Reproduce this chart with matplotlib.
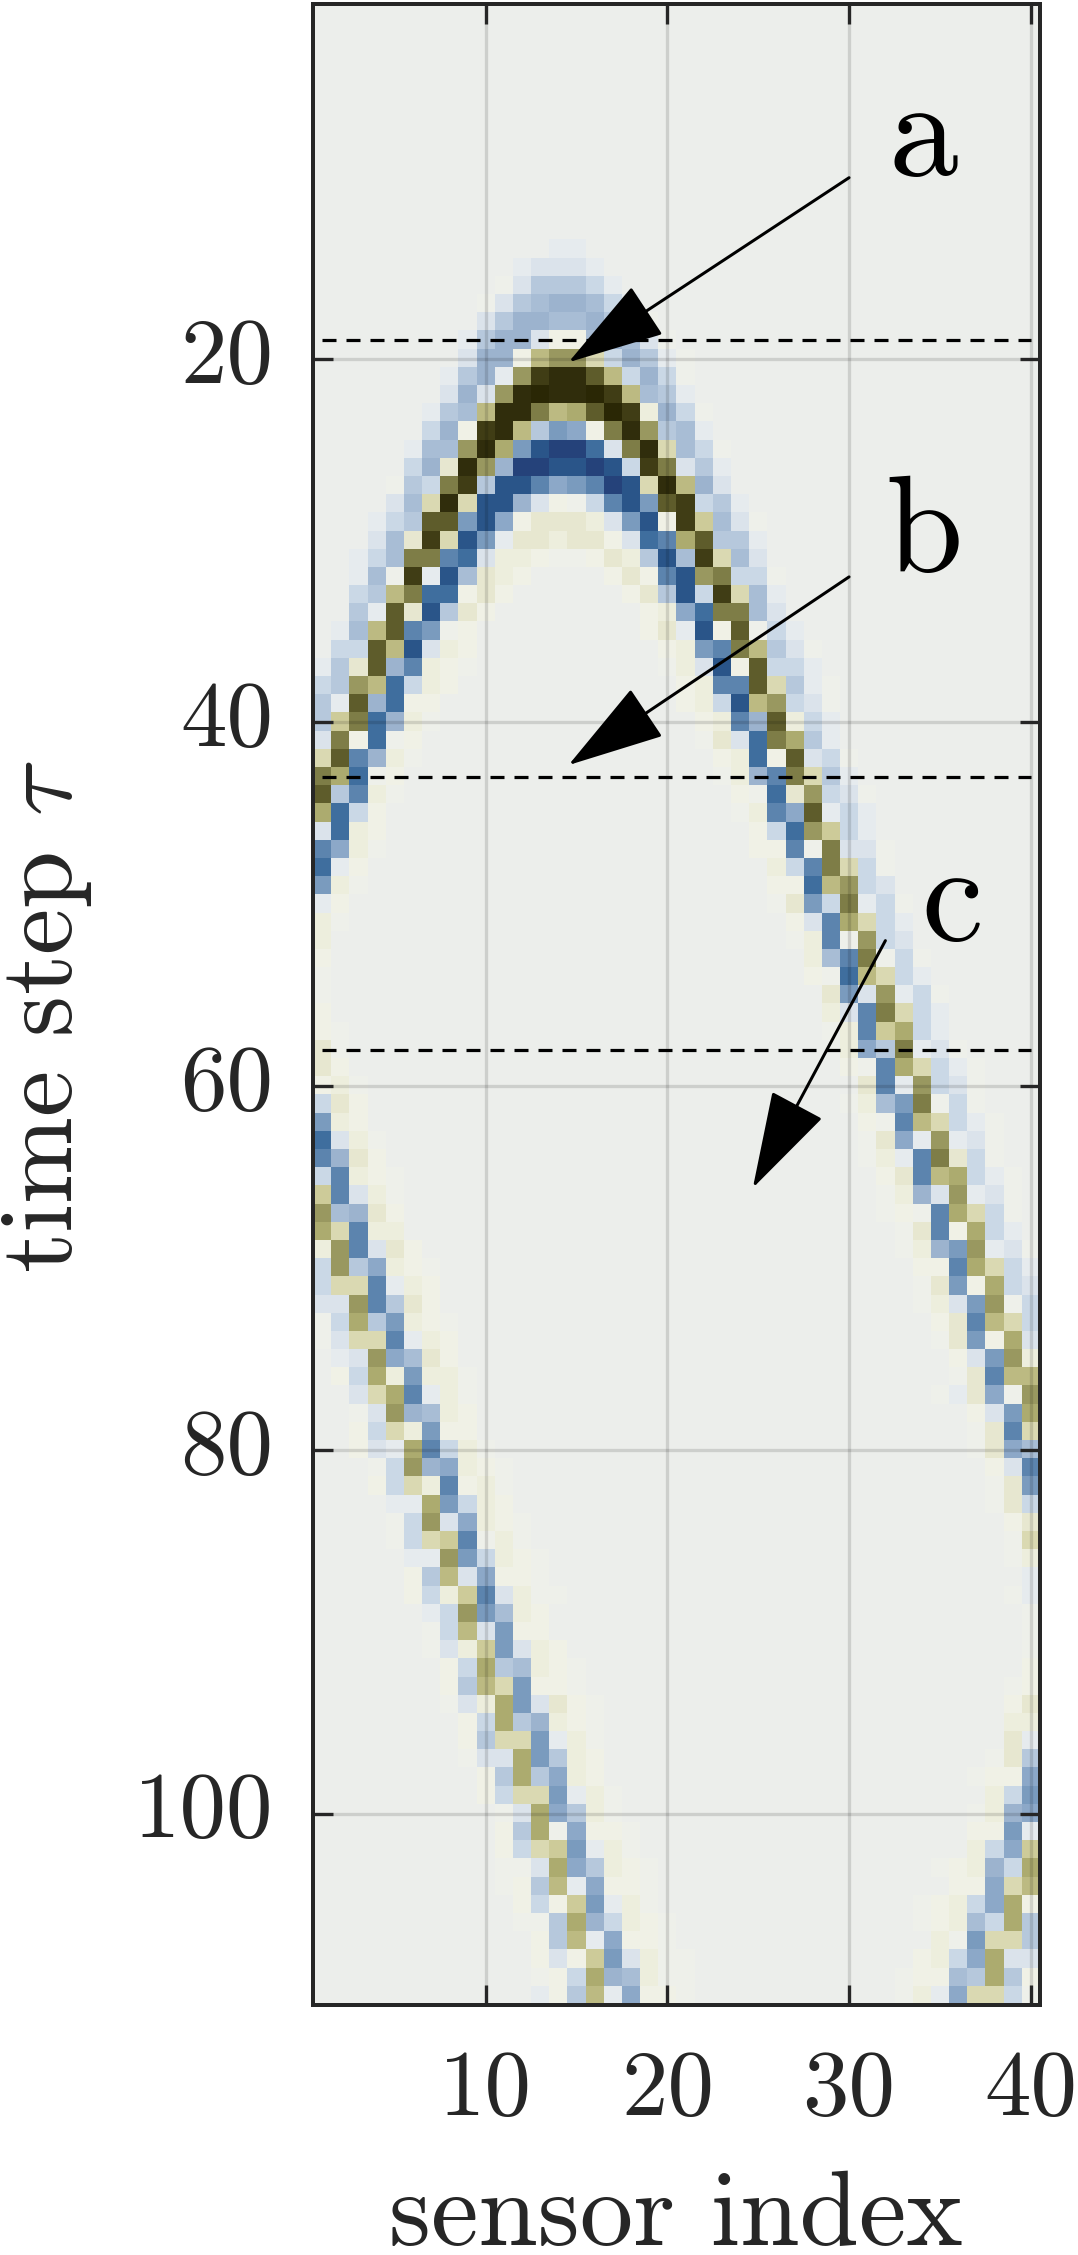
"""Sensor-index vs time-step field with three marked time slices."""

import numpy as np
import matplotlib
matplotlib.use('Agg')
import matplotlib.pyplot as plt
from matplotlib.colors import ListedColormap
from matplotlib.transforms import ScaledTranslation

plt.rcParams['font.family'] = 'cmr10'
plt.rcParams['mathtext.fontset'] = 'cm'
plt.rcParams['axes.unicode_minus'] = False

# === Data ===
N_ROWS, N_COLS = 110, 40

# one character per colour level, from olive through background to blue
LEVELS = 'jihgfendmcbwa,.0123p4q56789'
LEVEL_COLORS = ['#2A2705', '#302D0C', '#403D15', '#5E5C2B', '#7E7D47', '#999860',
                '#ACAB6F', '#BCBA82', '#CDCB99', '#DAD9B2', '#E7E7D0', '#EDEEDD',
                '#F0F1E6', '#EEF0EA', '#ECEEEB', '#E6EBEE', '#DBE3EB', '#CAD8E6',
                '#B6C8DC', '#A8BDD5', '#9CB3CE', '#8CA8C8', '#7A9BBE', '#5C84AE',
                '#3F6E9E', '#2A5589', '#25427A']

# (time step, first sensor, levels)
BANDS = [
    (14, 14, '00'), (15, 12, '01110'), (16, 11, ',133320'), (17, 10, ',13p44p20'),
    (18, 10, '1344pp431,'), (19, 9, '03441aap4p1,'), (20, 9, '144adeec2430,'),
    (21, 8, '0340ehiigd242,'), (22, 8, '141eijiijhdp30'), (23, 7, '03pdiifdngjhw42,'),
    (24, 7, '24ahid35qafie3p0'), (25, 6, '0ppein589971ficp2,'), (26, 6, '24bie49988982hf130'),
    (27, 5, ',32fh3886q5698cid41'), (28, 5, '1pcic8841a,2685gh230'),
    (29, 4, '023gg58qabbbw158ahmp1,'), (30, 4, '1pbhc850bbwbba176ng330'),
    (31, 3, '02pff671wwa,,abw38phcp1'), (32, 3, '0p,h08pbwa....aba68ef22,'),
    (33, 3, '23df77aba......ab382hcp0'), (34, 3, '30gb83ba........awq7ffp1'),
    (35, 2, '0pdg65,a.........ab08ag,20'), (36, 2, '22gd81wa..........aw56fd31,'),
    (37, 1, '03bg46wa,'), (37, 20, ',w18ag220'), (38, 1, '23ed72wa'), (38, 21, 'aw66gc30,'),
    (39, 1, '30g47aa'), (39, 21, 'aw28de21,'), (40, 1, '3mf74w,'), (40, 22, 'aw64gw20'),
    (41, 1, '1fa7,a'), (41, 22, ',b17fn30'), (42, 1, 'cg64w,'), (42, 23, 'aw7ag12,'),
    (43, 1, 'fn7,a'), (43, 23, ',w46fc30'), (44, 1, 'g36w,'), (44, 24, 'a,7be21,'),
    (45, 1, 'n72a'), (45, 24, ',w6qg020'), (46, 1, '17wa'), (46, 25, 'a27em20'),
    (47, 1, '6qw,'), (47, 25, 'aa6,f11,'), (48, 1, '70a'), (48, 26, 'w26fc2,'),
    (49, 1, '5w,'), (49, 26, 'aa7de21'), (50, 1, '0a'), (50, 26, ',b52f02,'),
    (51, 1, 'w,'), (51, 27, 'a16nc20'), (52, 1, 'w'), (52, 27, ',w6,e21'),
    (53, 1, 'a'), (53, 28, 'wp6f,2,'), (54, 1, ','), (54, 28, 'a,7dc20'),
    (55, 1, ','), (55, 29, 'b51e02,'), (56, 1, 'a'), (56, 29, 'w16fc20'),
    (57, 1, 'a,'), (57, 29, ',w6mn20'), (58, 1, 'b,'), (58, 30, 'wq3f01,'),
    (59, 1, 'ba'), (59, 30, 'a,6nc20,'), (60, 1, 'aw,'), (60, 31, 'b60e21,'),
    (61, 1, '2ba'), (61, 30, ',wp5f,2,'), (62, 1, '5wa'), (62, 31, 'a,6dc20,'),
    (63, 1, '71w,'), (63, 31, ',bq0e01,'), (64, 1, '64ba'), (64, 31, ',w06fb2,'),
    (65, 1, '26wa,'), (65, 32, 'ab6dn20,'), (66, 1, 'm61w,'), (66, 32, ',w41e01,'),
    (67, 1, 'ep4ba'), (67, 32, ',a,6nc2,'), (68, 1, 'nc6ww'), (68, 33, ',b6an20'),
    (69, 1, 'we61ba'), (69, 33, ',w45e01,'), (70, 1, '2e3qwa,'), (70, 34, 'aa6nc20'),
    (71, 1, '2cc60wa'), (71, 34, ',b5an21'), (72, 1, '11e63ba'), (72, 34, ',w15e,2'),
    (73, 1, ',2n35wa,'), (73, 35, 'ab6dc2'), (74, 1, ',1cc60wa'), (74, 35, ',b5an1'),
    (75, 2, '01eqpba'), (75, 36, 'a15ew'), (76, 2, 'a2nw5ww,'), (76, 36, ',b6dd'),
    (77, 3, '1cn60w,'), (77, 35, ',0bq,e'), (78, 3, ',1e4pwa'), (78, 37, 'a15n'),
    (79, 3, 'a2cw5aa'), (79, 37, ',b6c'), (80, 3, 'a10n62w,'), (80, 37, ',bqp'),
    (81, 4, ',2e4qwa,'), (81, 38, 'a16'), (82, 4, 'a2cw6aw,'), (82, 38, ',b5'),
    (83, 5, '00n52wa'), (83, 38, ',b2'), (84, 5, ',2e1qwa,'), (84, 39, 'ab'),
    (85, 5, ',2cm6,w,'), (85, 39, ',c'), (86, 6, '00e52wa,'), (86, 39, ',w'),
    (87, 6, 'a3d1qaa,'), (87, 40, '0'), (88, 6, 'a2wm61w,,'), (88, 39, ',0'),
    (89, 7, '02e5pwa'), (89, 40, ','), (90, 7, ',2d15aa'), (90, 40, ','),
    (91, 7, ',1wm51wa'), (91, 40, ','), (92, 8, 'a2n3pwa,'), (92, 40, 'a'),
    (93, 8, 'a3dc5aa,'), (93, 39, ',a'), (94, 8, ',1wn51ba,'), (94, 39, 'ab'),
    (95, 9, 'a2n34wa,'), (95, 39, 'ww'), (96, 9, 'a3cc50w,'), (96, 39, 'b0'),
    (97, 9, ',11n53wa'), (97, 38, ',b3'), (98, 10, 'a3n3qwa'), (98, 37, ',aaq'),
    (99, 10, 'a2cc50w,'), (99, 38, 'w25'), (100, 11, ',1nq3w,'), (100, 37, ',w4q'),
    (101, 11, 'a3n,qaa,'), (101, 37, 'aa50'), (102, 11, 'a2cm50w,'), (102, 37, 'w2qm'),
    (103, 11, ',,1nq3wa,'), (103, 35, ',aw42n'), (104, 11, ',a3d0qaa,'), (104, 36, 'aaqcd'),
    (105, 12, 'a2am50w,'), (105, 34, ',aw2qna'), (106, 12, ',,3n42wa,'), (106, 34, ',awp2n3'),
    (107, 13, 'a3d0qaa,'), (107, 35, 'w,5cc3'), (108, 13, 'a1am51w,,'), (108, 34, 'aw2qn11'),
    (109, 13, ',a2n4pw,,'), (109, 33, ',aap3n3a'), (110, 13, '0a3d0qaa,'), (110, 33, ',w0qcc2,'),
]

X_TICKS = [10, 20, 30, 40]
Y_TICKS = [20, 40, 60, 80, 100]
SLICE_STEPS = [19, 43, 58]
# letter, letter position, arrow tail, arrow tip
MARKERS = [('a', (34.1, 8.0), (30.0, 10.05), (14.55, 20.2)),
           ('b', (34.1, 29.8), (30.0, 32.0), (14.55, 42.35)),
           ('c', (35.7, 50.1), (32.0, 52.0), (24.7, 65.6))]

# === Parameters ===
W, H = 1078, 2255
DPI = 100
INK = '#262626'
PX = 72 / DPI

grid = np.full((N_ROWS, N_COLS), LEVELS.index('.'))
for row, col, levels in BANDS:
    for offset, ch in enumerate(levels):
        grid[row - 1, col - 1 + offset] = LEVELS.index(ch)

fig = plt.figure(figsize=(W / DPI, H / DPI), dpi=DPI)
ax = fig.add_axes([313.3 / W, 1 - 2004.5 / H, (1039.8 - 313.3) / W, (2004.5 - 4) / H])

ax.imshow(grid, cmap=ListedColormap(LEVEL_COLORS), vmin=-0.5, vmax=len(LEVELS) - 0.5,
          extent=(0.5, 40.5, 110.5, 0.5), aspect='auto', interpolation='nearest')

ax.set_xticks(X_TICKS)
ax.set_yticks(Y_TICKS)
ax.tick_params(direction='in', top=True, right=True, length=20 * PX, width=3.3 * PX,
               color=INK, labelcolor=INK, labelsize=67)
ax.tick_params(axis='x', pad=33)
ax.tick_params(axis='y', pad=29)
# digits sit low in their box, lift them back onto the tick
lift = ScaledTranslation(0, 8.5 / DPI, fig.dpi_scale_trans)
for label in ax.get_yticklabels():
    label.set_transform(label.get_transform() + lift)
ax.grid(True, color='black', alpha=0.13, linewidth=3.3 * PX)
ax.set_axisbelow(False)
for spine in ax.spines.values():
    spine.set_linewidth(4 * PX)
    spine.set_color(INK)

for step in SLICE_STEPS:
    ax.plot([1, 40], [step, step], color='black', linewidth=3.2 * PX,
            linestyle=(0, (14 / 3.2, 10 / 3.2)), zorder=4)

for letter, text_xy, tail, tip in MARKERS:
    ax.annotate('', xy=tip, xytext=tail, zorder=5,
                arrowprops=dict(arrowstyle='-|>,head_length=%.1f,head_width=%.1f' % (87 * PX, 26 * PX),
                                mutation_scale=1, linewidth=3 * PX, color='black',
                                shrinkA=0, shrinkB=0))
    ax.text(text_xy[0], text_xy[1], letter, fontsize=100, color='black',
            ha='center', va='center', zorder=6)

fig.text(676 / W, 1 - 2218 / H, 'sensor index', fontsize=77, color=INK,
         ha='center', va='center')
fig.text(47 / W, 1 - 1017 / H, r'time step $\tau$', fontsize=75, color=INK,
         rotation=90, ha='center', va='center')

fig.savefig('out.png', dpi=DPI)
plt.close(fig)
